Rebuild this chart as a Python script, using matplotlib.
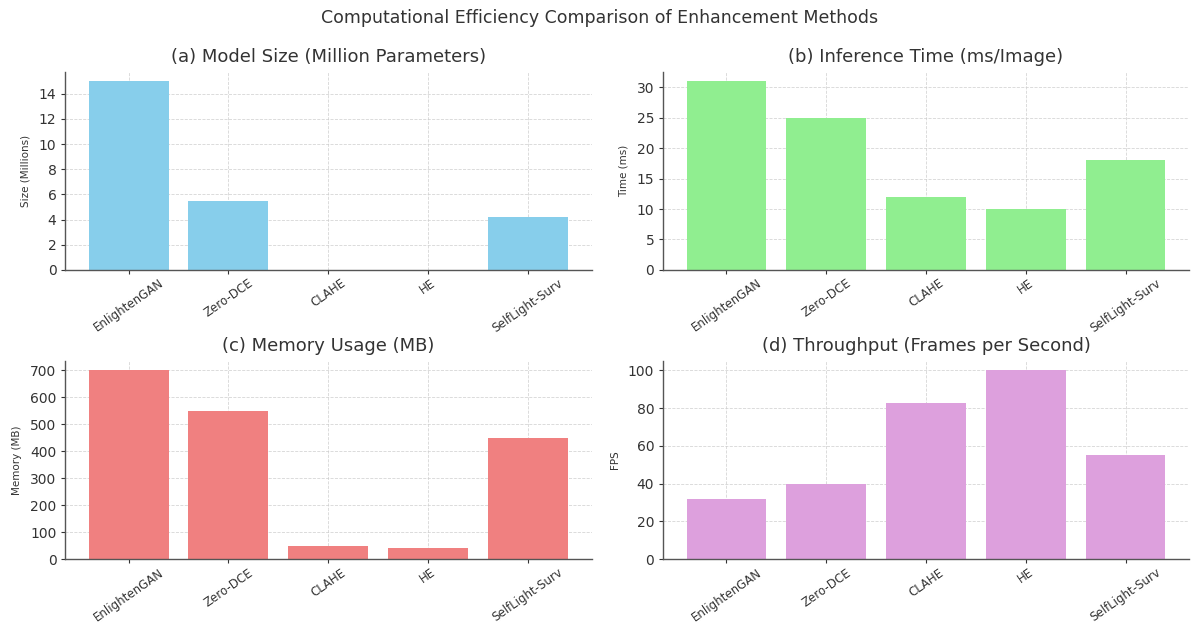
import matplotlib.pyplot as plt
from matplotlib.ticker import MultipleLocator

methods = ["EnlightenGAN", "Zero-DCE", "CLAHE", "HE", "SelfLight-Surv"]
model_size_m = [15, 5.5, 0, 0, 4.2]
inference_ms = [31, 25, 12, 10, 18]
memory_mb = [700, 550, 50, 40, 450]
throughput_fps = [32, 40, 83, 100, 55]

# title, y label, values, colour, y tick step
panels = [
    ("(a) Model Size (Million Parameters)", "Size (Millions)", model_size_m, "skyblue", 2),
    ("(b) Inference Time (ms/Image)", "Time (ms)", inference_ms, "lightgreen", 5),
    ("(c) Memory Usage (MB)", "Memory (MB)", memory_mb, "lightcoral", 100),
    ("(d) Throughput (Frames per Second)", "FPS", throughput_fps, "plum", 20),
]

text_color = "#333333"
plt.rcParams["font.family"] = "DejaVu Sans"

fig, axes = plt.subplots(2, 2, figsize=(11.99, 6.24), dpi=100)
fig.subplots_adjust(left=0.054, right=0.992, top=0.885, bottom=0.104,
                    wspace=0.135, hspace=0.46)

for ax, (title, ylabel, values, color, step) in zip(axes.flat, panels):
    ax.bar(methods, values, color=color, width=0.8, zorder=2)
    ax.set_title(title, fontsize=13, color=text_color, pad=7)
    ax.set_ylabel(ylabel, fontsize=7.5, color=text_color, labelpad=6)
    ax.yaxis.set_major_locator(MultipleLocator(step))
    ax.grid(True, linestyle="--", linewidth=0.6, color="#cccccc", alpha=0.8, zorder=0)
    ax.spines["top"].set_visible(False)
    ax.spines["right"].set_visible(False)
    for side in ("left", "bottom"):
        ax.spines[side].set_color("#555555")
        ax.spines[side].set_linewidth(1.0)
    ax.tick_params(axis="both", labelsize=10, colors=text_color, length=3, pad=3)
    ax.tick_params(axis="x", labelsize=8.5, pad=2)
    plt.setp(ax.get_xticklabels(), rotation=35, ha="center")

fig.suptitle("Computational Efficiency Comparison of Enhancement Methods",
             fontsize=12.5, color=text_color, y=0.985)

fig.savefig("out.png", dpi=100)
